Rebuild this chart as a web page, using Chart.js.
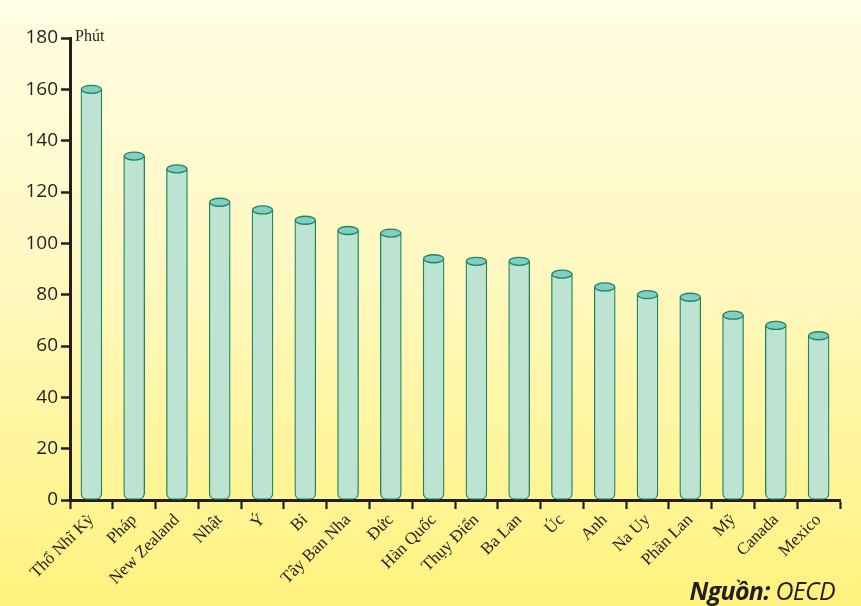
<!DOCTYPE html>
<html>
<head>
<meta charset="utf-8">
<script src="https://cdn.jsdelivr.net/npm/chart.js@4.4.1/dist/chart.umd.min.js"></script>
<style>
  html, body { margin: 0; padding: 0; }
  body {
    width: 861px; height: 606px; overflow: hidden; position: relative;
    background: linear-gradient(to bottom, #fffde4 0%, #fff8c0 45%, #fff27e 100%);
  }
  #wrap { position: absolute; left: 0; top: 0; width: 861px; height: 606px; }
  .unit {
    position: absolute; left: 75px; top: 27px;
    font: 16px "Liberation Serif", "DejaVu Serif", serif; color: #231f20;
  }
  .source {
    position: absolute; right: 26px; top: 573px;
    font: italic 25px "Open Sans", "Liberation Sans", sans-serif; color: #231f20;
    letter-spacing: -0.7px;
  }
  .source b { font-weight: 700; }
</style>
</head>
<body>
<div id="wrap"><canvas id="chart" width="861" height="606"></canvas></div>
<div class="unit">Phút</div>
<div class="source"><b>Nguồn:</b> OECD</div>

<script>
/* ================= DATA ================= */
const countries = [
  "Thổ Nhĩ Kỳ", "Pháp", "New Zealand", "Nhật", "Ý", "Bỉ",
  "Tây Ban Nha", "Đức", "Hàn Quốc", "Thụy Điển", "Ba Lan", "Úc",
  "Anh", "Na Uy", "Phần Lan", "Mỹ", "Canada", "Mexico"
];
const minutes = [160, 134, 129, 116, 113, 109, 105, 104, 94, 93, 93, 88, 83, 80, 79, 72, 68, 64];
const yTicks = [0, 20, 40, 60, 80, 100, 120, 140, 160, 180];

/* ================= CYLINDER TOPS ================= */
const cylinderTops = {
  id: "cylinderTops",
  afterDatasetsDraw(chart) {
    const { ctx } = chart;
    chart.getDatasetMeta(0).data.forEach(bar => {
      const rx = bar.width / 2;
      ctx.save();
      ctx.beginPath();
      ctx.ellipse(bar.x, bar.y, rx - 0.5, 4, 0, 0, Math.PI * 2);
      ctx.fillStyle = "#80cfc6";
      ctx.fill();
      ctx.lineWidth = 1.3;
      ctx.strokeStyle = "#23845c";
      ctx.stroke();
      ctx.restore();
    });
  }
};

/* ================= CHART ================= */
new Chart(document.getElementById("chart"), {
  type: "bar",
  data: {
    labels: countries,
    datasets: [{
      data: minutes,
      backgroundColor: "#bde3d2",
      borderColor: "#23845c",
      borderWidth: 1.3,
      borderSkipped: false,
      borderRadius: { topLeft: 0, topRight: 0, bottomLeft: 6, bottomRight: 6 },
      barThickness: 21
    }]
  },
  options: {
    responsive: false,
    animation: false,
    layout: { padding: { top: 38, right: 21, left: 0, bottom: 0 } },
    plugins: { legend: { display: false }, tooltip: { enabled: false } },
    scales: {
      x: {
        afterFit: s => { s.height = 106; },
        grid: {
          offset: true,
          drawOnChartArea: false,
          drawTicks: true,
          tickLength: 9,
          tickWidth: 2.2,
          color: "#231f20"
        },
        border: { display: true, color: "#231f20", width: 3 },
        ticks: {
          minRotation: 45,
          maxRotation: 45,
          autoSkip: false,
          padding: 1,
          color: "#231f20",
          font: { family: "'Liberation Serif', 'DejaVu Serif', serif", size: 17 }
        }
      },
      y: {
        min: 0,
        max: 180,
        afterFit: s => { s.width = 70; },
        afterBuildTicks: s => { s.ticks = yTicks.map(v => ({ value: v })); },
        grid: {
          drawOnChartArea: false,
          drawTicks: true,
          tickLength: 9,
          tickWidth: 2.5,
          color: "#231f20"
        },
        border: { display: true, color: "#231f20", width: 3 },
        ticks: {
          padding: 3,
          color: "#231f20",
          font: { family: "'Open Sans', 'Liberation Sans', sans-serif", size: 19 }
        }
      }
    }
  },
  plugins: [cylinderTops]
});
</script>
</body>
</html>
